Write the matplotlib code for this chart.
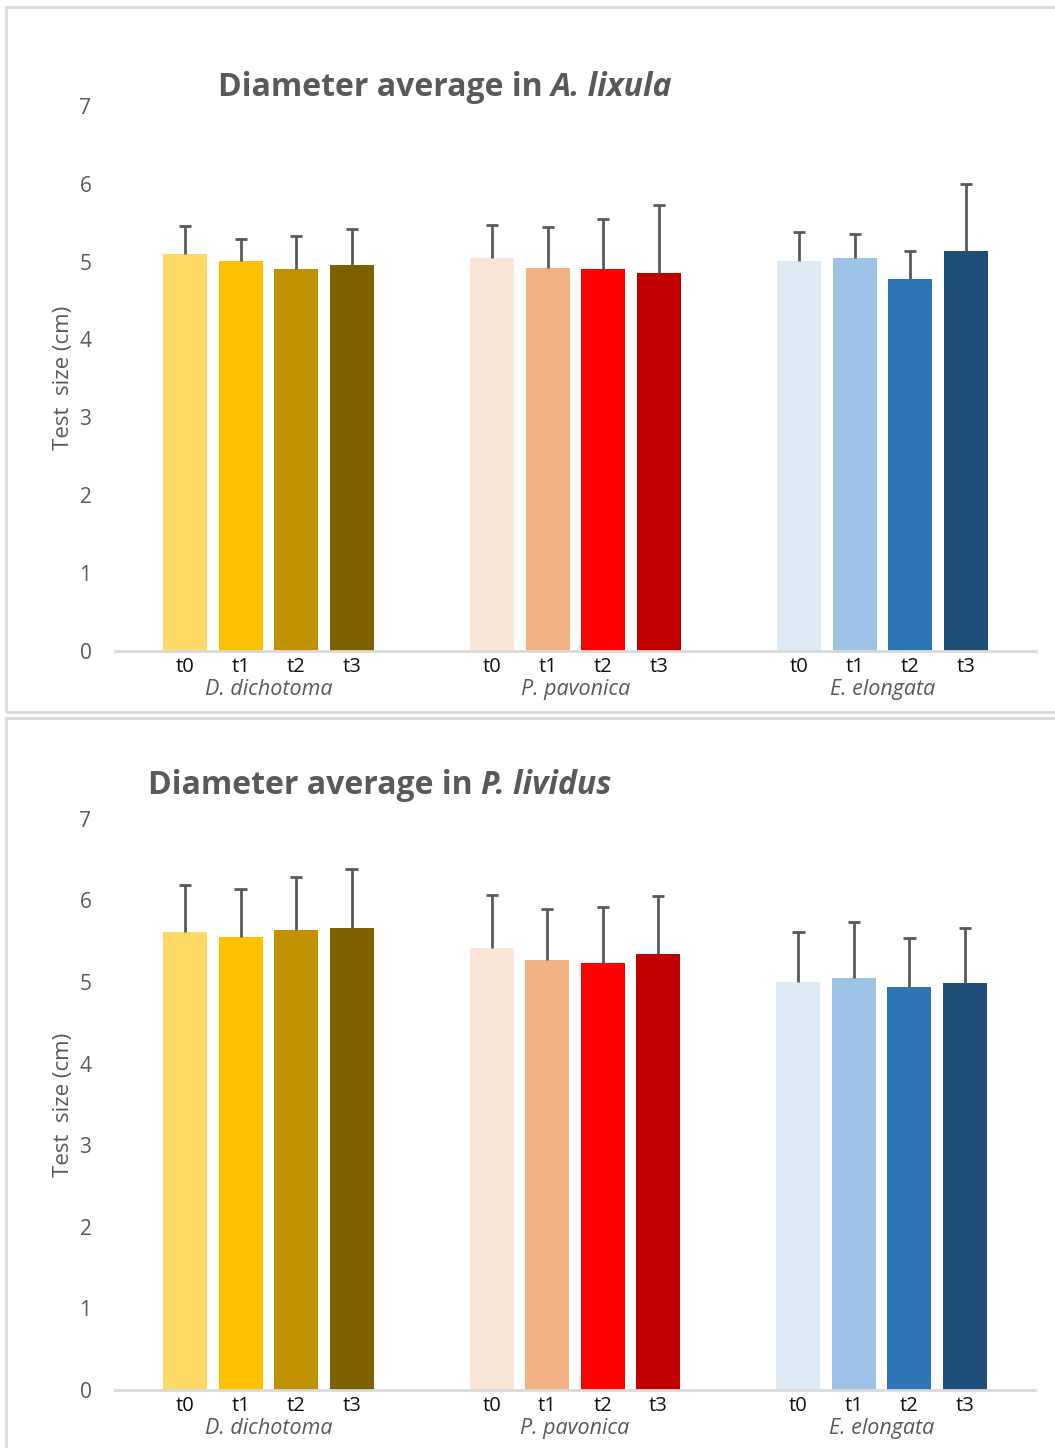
import numpy as np
import matplotlib.pyplot as plt
from matplotlib.patches import Rectangle

plt.rcParams['font.family'] = ['Open Sans', 'DejaVu Sans']

W, H = 1055, 1448

species = ["D. dichotoma", "P. pavonica", "E. elongata"]
times = ["t0", "t1", "t2", "t3"]

colors = [
    ["#FFD966", "#FFC000", "#BF9000", "#7F6000"],
    ["#FBE5D6", "#F4B183", "#FF0000", "#C00000"],
    ["#DEEBF7", "#9DC3E6", "#2E75B6", "#1F4E79"],
]

# mean test diameter per algae (rows) and time (cols)
lixula_mean = [[5.09, 5.01, 4.91, 4.96],
               [5.05, 4.92, 4.90, 4.85],
               [5.00, 5.04, 4.77, 5.13]]
lixula_sd = [[0.36, 0.28, 0.42, 0.46],
             [0.42, 0.52, 0.64, 0.87],
             [0.38, 0.31, 0.37, 0.87]]

lividus_mean = [[5.61, 5.55, 5.64, 5.66],
                [5.42, 5.27, 5.23, 5.34],
                [5.00, 5.05, 4.94, 4.99]]
lividus_sd = [[0.58, 0.59, 0.65, 0.72],
              [0.65, 0.62, 0.69, 0.71],
              [0.61, 0.69, 0.60, 0.67]]

GRAY = "#595959"


def fx(x):
    return x / W


def fy(y):
    return 1 - y / H


def draw_panel(fig, frame, ax_box, title_xy, name, mean, sd):
    # light gray frame around each chart
    x0, y0, x1, y1 = frame
    fig.patches.append(Rectangle((fx(x0), fy(y1)), fx(x1 - x0), (y1 - y0) / H,
                                 transform=fig.transFigure, fill=False,
                                 edgecolor="#D9D9D9", lw=2, zorder=0))
    left, right, bottom, top = ax_box
    ax = fig.add_axes([fx(left), fy(bottom), fx(right - left), (bottom - top) / H])

    width = 0.143
    step = 0.181
    cap = 0.02
    pos_all, lab_all = [], []
    for i in range(len(species)):
        for j in range(len(times)):
            x = i + (j - 1.5) * step
            m, s = mean[i][j], sd[i][j]
            ax.bar(x, m, width=width, color=colors[i][j], zorder=2)
            # upper error bar only
            ax.vlines(x, m, m + s, color=GRAY, lw=2, zorder=3)
            ax.hlines(m + s, x - cap, x + cap, color=GRAY, lw=2, zorder=3)
            pos_all.append(x)
            lab_all.append(times[j])

    ax.set_xlim(-0.5, 2.5)
    ax.set_ylim(0, 7)
    ax.set_yticks(range(0, 8))
    ax.tick_params(axis="y", length=0, pad=17, labelsize=15, labelcolor=GRAY)

    ax.set_xticks(pos_all)
    ax.set_xticklabels(lab_all)
    ax.tick_params(axis="x", which="major", length=0, pad=4, labelsize=14.5, labelcolor="#111111")
    ax.set_xticks(range(len(species)), minor=True)
    ax.set_xticklabels(species, minor=True, style="italic")
    ax.tick_params(axis="x", which="minor", length=0, pad=20, labelsize=15.5, labelcolor=GRAY)

    for s in ["top", "right", "left"]:
        ax.spines[s].set_visible(False)
    ax.spines["bottom"].set_color("#D9D9D9")
    ax.spines["bottom"].set_linewidth(2)

    ax.set_ylabel("Test  size (cm)", fontsize=16, color=GRAY, labelpad=4)

    tx, ty = title_xy
    t1 = fig.text(fx(tx), fy(ty), "Diameter average in ", fontsize=23,
                  fontweight="bold", color=GRAY, va="center", ha="left")
    ax.annotate(name, xy=(1, 0), xycoords=t1, va="bottom", ha="left",
                fontsize=23, fontweight="bold", style="italic", color=GRAY,
                annotation_clip=False)
    return ax


fig = plt.figure(figsize=(W / 100, H / 100), dpi=100)

draw_panel(fig, (6, 7, 1062, 712), (115, 1036, 651, 651 - 7 * 77.9),
           (218, 87), "A. lixula", lixula_mean, lixula_sd)
draw_panel(fig, (6, 718, 1062, 1460), (115, 1035, 1390, 1390 - 7 * 81.6),
           (148, 785), "P. lividus", lividus_mean, lividus_sd)

fig.savefig("out.png", dpi=100)
